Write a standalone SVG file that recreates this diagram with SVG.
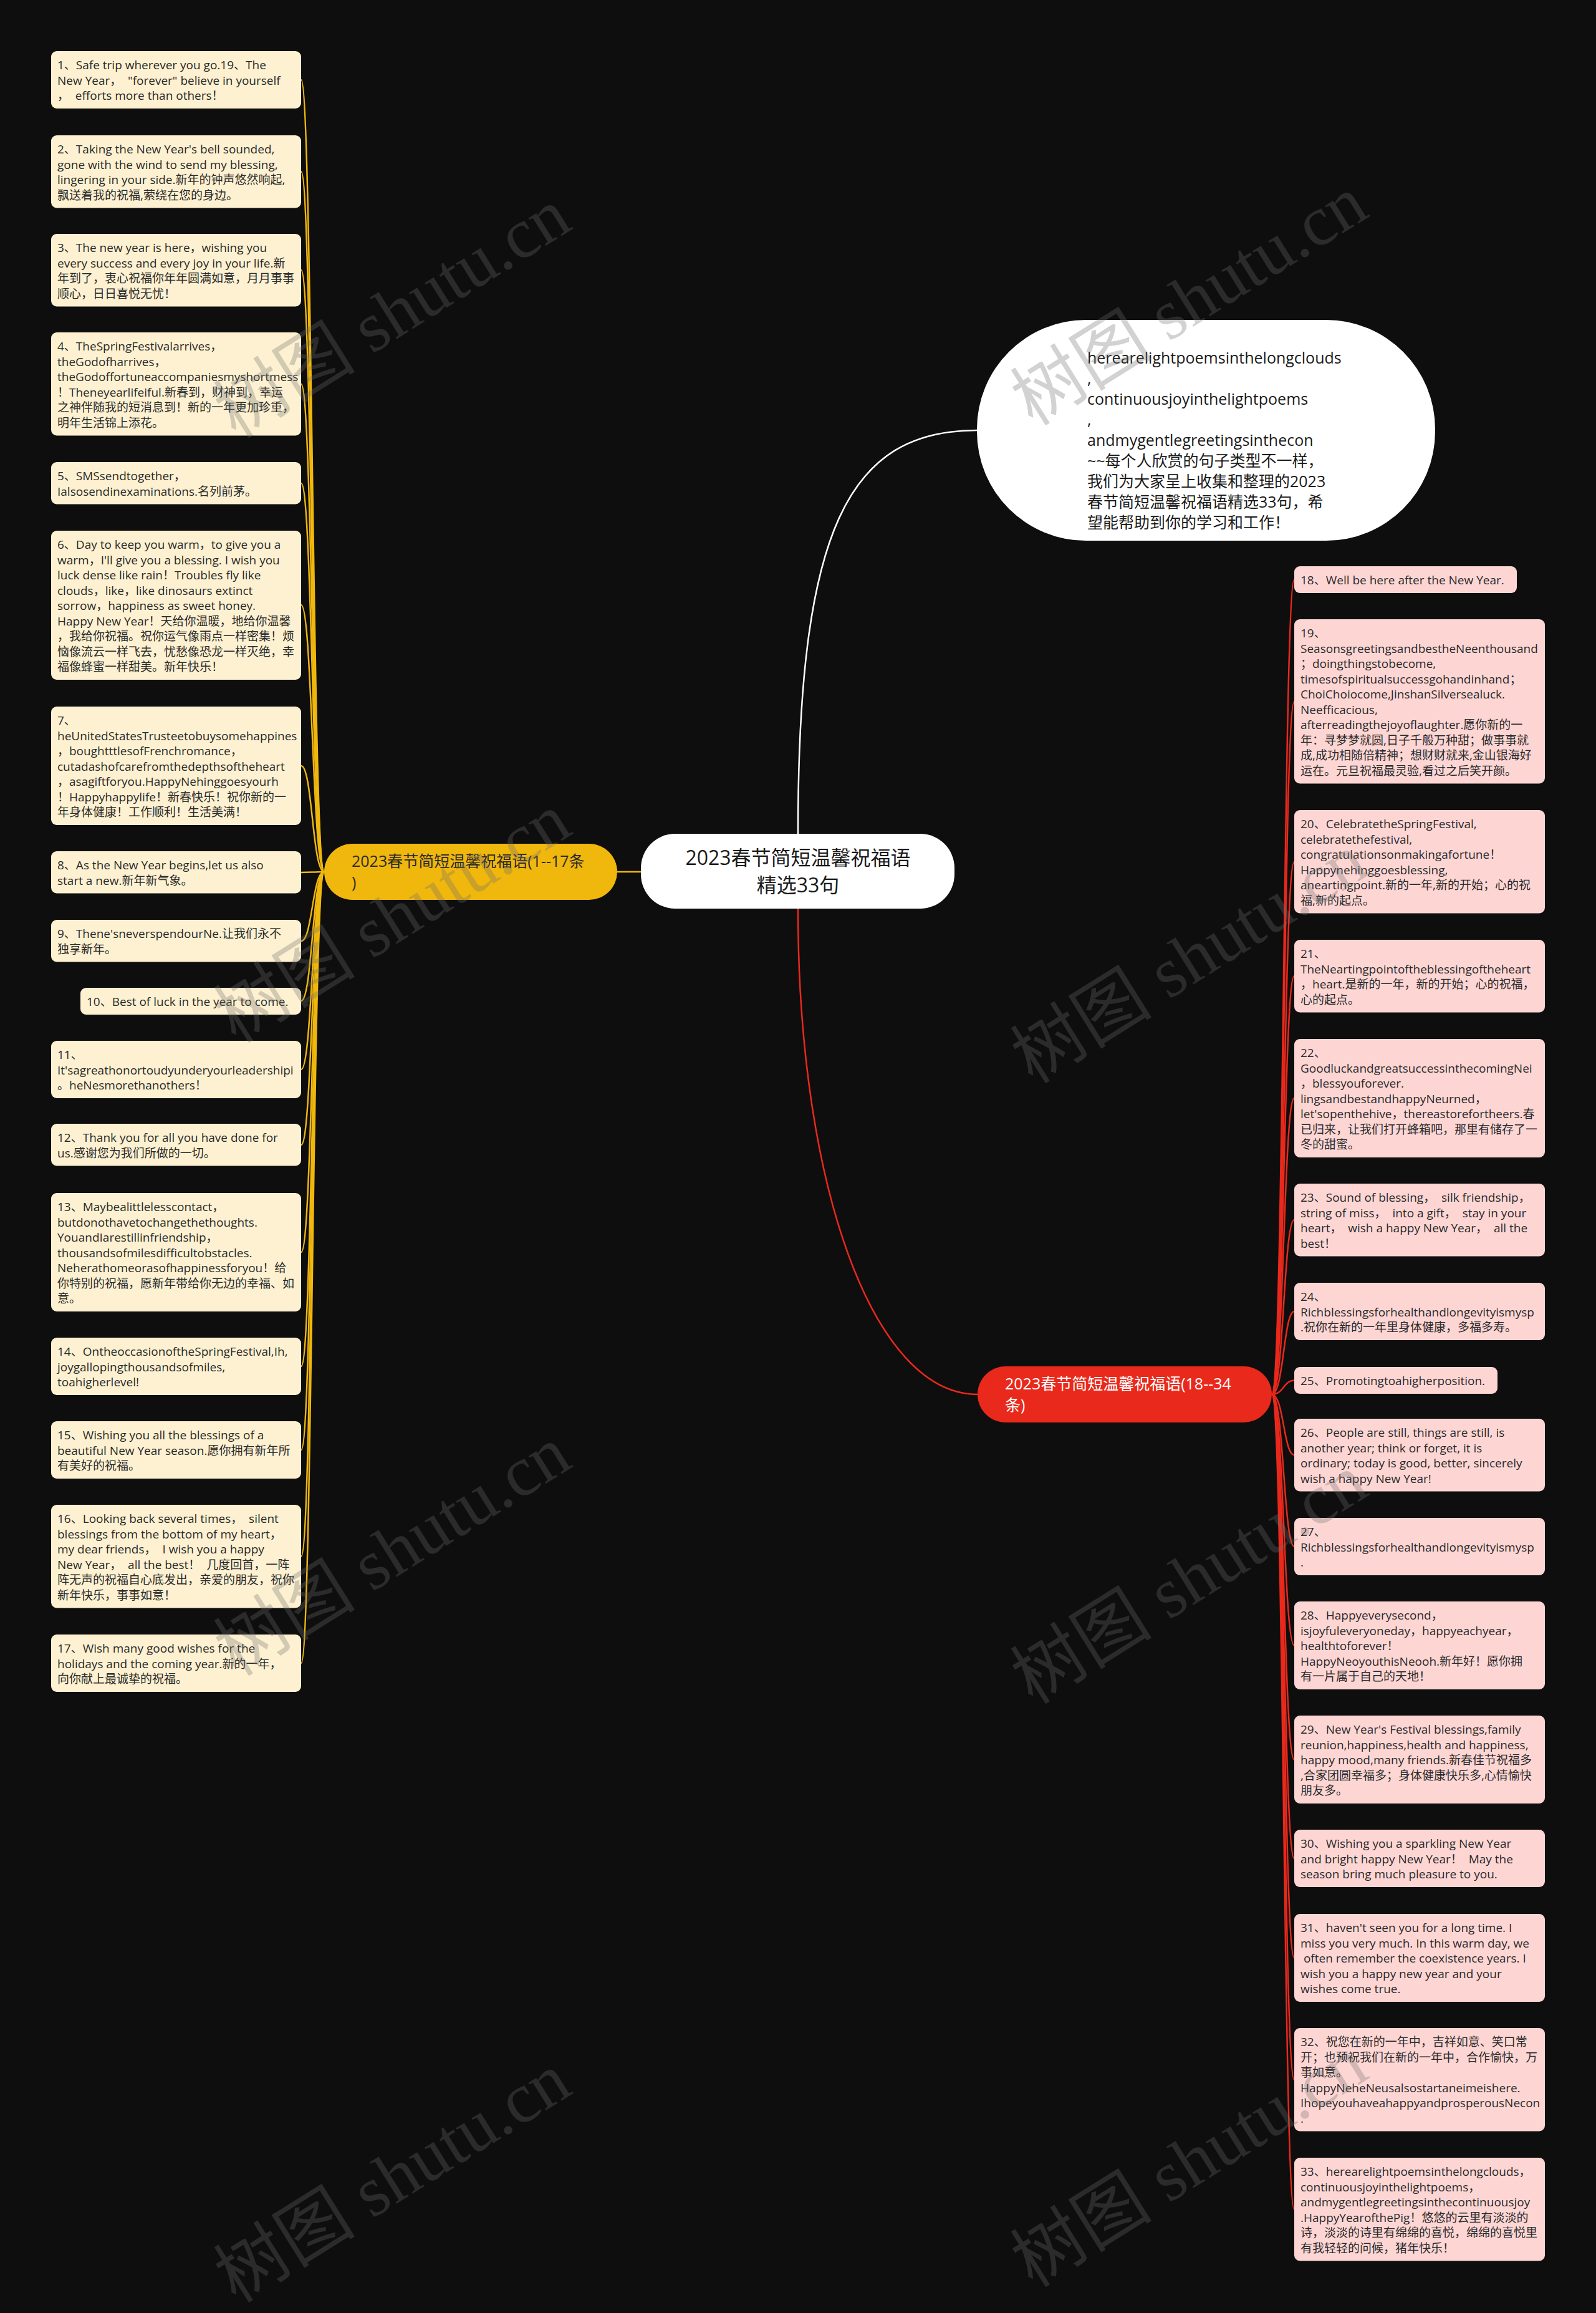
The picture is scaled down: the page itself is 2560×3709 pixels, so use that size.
<svg xmlns="http://www.w3.org/2000/svg" width="2560" height="3709" viewBox="0 0 2560 3709">
<style>
.t{font-family:"Open Sans","Noto Sans CJK SC",sans-serif;font-size:19px;fill:#2a2a2a;white-space:pre}
.l{fill:#fdf1d1}
.r{fill:#fdd6d4}
.cy{fill:none;stroke:#f0b70d;stroke-width:2.5}
.cr{fill:none;stroke:#e9291c;stroke-width:2.5}
.cw{fill:none;stroke:#ffffff;stroke-width:2.5}
.m{font-family:"Open Sans","Noto Sans CJK SC",sans-serif}
.wm{font-family:"Liberation Serif","Noto Sans CJK SC",serif;font-size:114px;fill:#6e6e6e;opacity:0.3}
</style>
<rect x="0" y="0" width="2560" height="3709" fill="#0e0e0e"/>
<g id="connectors">
<path class="cw" d="M1280 1337 C1280 850 1360 690 1567 690"/>
<path class="cr" d="M1280 1457 C1280 1900 1400 2236 1568 2236"/>
<path class="cy" d="M1028 1398 L990 1398"/>
<path class="cy" d="M520 1398 C501 1398 501 128 483 128"/>
<path class="cy" d="M520 1398 C501 1398 501 275 483 275"/>
<path class="cy" d="M520 1398 C501 1398 501 433 483 433"/>
<path class="cy" d="M520 1398 C501 1398 501 616 483 616"/>
<path class="cy" d="M520 1398 C501 1398 501 775 483 775"/>
<path class="cy" d="M520 1398 C501 1398 501 970 483 970"/>
<path class="cy" d="M520 1398 C501 1398 501 1228 483 1228"/>
<path class="cy" d="M520 1398 C501 1398 501 1399 483 1399"/>
<path class="cy" d="M520 1398 C501 1398 501 1509 483 1509"/>
<path class="cy" d="M520 1398 C501 1398 501 1605 483 1605"/>
<path class="cy" d="M520 1398 C501 1398 501 1715 483 1715"/>
<path class="cy" d="M520 1398 C501 1398 501 1836 483 1836"/>
<path class="cy" d="M520 1398 C501 1398 501 2008 483 2008"/>
<path class="cy" d="M520 1398 C501 1398 501 2191 483 2191"/>
<path class="cy" d="M520 1398 C501 1398 501 2325 483 2325"/>
<path class="cy" d="M520 1398 C501 1398 501 2496 483 2496"/>
<path class="cy" d="M520 1398 C501 1398 501 2667 483 2667"/>
<path class="cr" d="M2040 2236 C2059 2236 2059 929.5 2076 929.5"/>
<path class="cr" d="M2040 2236 C2059 2236 2059 1125 2076 1125"/>
<path class="cr" d="M2040 2236 C2059 2236 2059 1382 2076 1382"/>
<path class="cr" d="M2040 2236 C2059 2236 2059 1565 2076 1565"/>
<path class="cr" d="M2040 2236 C2059 2236 2059 1761 2076 1761"/>
<path class="cr" d="M2040 2236 C2059 2236 2059 1956 2076 1956"/>
<path class="cr" d="M2040 2236 C2059 2236 2059 2103 2076 2103"/>
<path class="cr" d="M2040 2236 C2059 2236 2059 2213.5 2076 2213.5"/>
<path class="cr" d="M2040 2236 C2059 2236 2059 2333 2076 2333"/>
<path class="cr" d="M2040 2236 C2059 2236 2059 2480 2076 2480"/>
<path class="cr" d="M2040 2236 C2059 2236 2059 2638.5 2076 2638.5"/>
<path class="cr" d="M2040 2236 C2059 2236 2059 2821.5 2076 2821.5"/>
<path class="cr" d="M2040 2236 C2059 2236 2059 2980 2076 2980"/>
<path class="cr" d="M2040 2236 C2059 2236 2059 3139.5 2076 3139.5"/>
<path class="cr" d="M2040 2236 C2059 2236 2059 3335 2076 3335"/>
<path class="cr" d="M2040 2236 C2059 2236 2059 3543 2076 3543"/>
</g>
<g id="center">
<rect x="1028" y="1337" width="503" height="120" rx="55" fill="#ffffff"/>
<text class="m" x="1280" y="1387" font-size="32" fill="#1a1a1a" text-anchor="middle">2023春节简短温馨祝福语<tspan x="1280" dy="44">精选33句</tspan></text>
</g>
<g id="intro">
<rect x="1567" y="513" width="735" height="354" rx="175" fill="#ffffff"/>
<text class="m" x="1744" y="583" font-size="25" fill="#1a1a1a">herearelightpoemsinthelongclouds<tspan x="1744" dy="33">,</tspan><tspan x="1744" dy="33">continuousjoyinthelightpoems</tspan><tspan x="1744" dy="33">,</tspan><tspan x="1744" dy="33">andmygentlegreetingsinthecon</tspan><tspan x="1744" dy="33">~~每个人欣赏的句子类型不一样，</tspan><tspan x="1744" dy="33">我们为大家呈上收集和整理的2023</tspan><tspan x="1744" dy="33">春节简短温馨祝福语精选33句，希</tspan><tspan x="1744" dy="33">望能帮助到你的学习和工作！</tspan></text>
</g>
<g id="branch-left">
<rect x="520" y="1353" width="470" height="90" rx="45" fill="#f0b70d"/>
<text class="m" x="564" y="1390" font-size="25" fill="#2a2a2a">2023春节简短温馨祝福语(1--17条<tspan x="564" dy="34">)</tspan></text>
</g>
<g id="branch-right">
<rect x="1568" y="2191" width="472" height="90" rx="45" fill="#e9291c"/>
<text class="m" x="1612" y="2228" font-size="25" fill="#ffffff">2023春节简短温馨祝福语(18--34<tspan x="1612" dy="34">条)</tspan></text>
</g>
<g id="n1"><rect class="l" x="82" y="82" width="401" height="92" rx="9"/><svg x="82" y="82" width="401" height="92"><text class="t" y="29"><tspan x="10">1、Safe trip wherever you go.19、The</tspan><tspan x="10" dy="24.5">New Year，  "forever" believe in yourself</tspan><tspan x="10" dy="24.5">，  efforts more than others！</tspan></text></svg></g>
<g id="n2"><rect class="l" x="82" y="217" width="401" height="116.5" rx="9"/><svg x="82" y="217" width="401" height="116.5"><text class="t" y="29"><tspan x="10">2、Taking the New Year's bell sounded,</tspan><tspan x="10" dy="24.5">gone with the wind to send my blessing,</tspan><tspan x="10" dy="24.5">lingering in your side.新年的钟声悠然响起,</tspan><tspan x="10" dy="24.5">飘送着我的祝福,萦绕在您的身边。</tspan></text></svg></g>
<g id="n3"><rect class="l" x="82" y="375" width="401" height="116.5" rx="9"/><svg x="82" y="375" width="401" height="116.5"><text class="t" y="29"><tspan x="10">3、The new year is here，wishing you</tspan><tspan x="10" dy="24.5">every success and every joy in your life.新</tspan><tspan x="10" dy="24.5">年到了，衷心祝福你年年圆满如意，月月事事</tspan><tspan x="10" dy="24.5">顺心，日日喜悦无忧！</tspan></text></svg></g>
<g id="n4"><rect class="l" x="82" y="533" width="401" height="165.5" rx="9"/><svg x="82" y="533" width="401" height="165.5"><text class="t" y="29"><tspan x="10">4、TheSpringFestivalarrives，</tspan><tspan x="10" dy="24.5">theGodofharrives，</tspan><tspan x="10" dy="24.5">theGodoffortuneaccompaniesmyshortmess</tspan><tspan x="10" dy="24.5">！Theneyearlifeiful.新春到，财神到，幸运</tspan><tspan x="10" dy="24.5">之神伴随我的短消息到！新的一年更加珍重，</tspan><tspan x="10" dy="24.5">明年生活锦上添花。</tspan></text></svg></g>
<g id="n5"><rect class="l" x="82" y="741" width="401" height="67.5" rx="9"/><svg x="82" y="741" width="401" height="67.5"><text class="t" y="29"><tspan x="10">5、SMSsendtogether，</tspan><tspan x="10" dy="24.5">Ialsosendinexaminations.名列前茅。</tspan></text></svg></g>
<g id="n6"><rect class="l" x="82" y="851" width="401" height="239" rx="9"/><svg x="82" y="851" width="401" height="239"><text class="t" y="29"><tspan x="10">6、Day to keep you warm，to give you a</tspan><tspan x="10" dy="24.5">warm，I'll give you a blessing. I wish you</tspan><tspan x="10" dy="24.5">luck dense like rain！Troubles fly like</tspan><tspan x="10" dy="24.5">clouds，like，like dinosaurs extinct</tspan><tspan x="10" dy="24.5">sorrow，happiness as sweet honey.</tspan><tspan x="10" dy="24.5">Happy New Year！天给你温暖，地给你温馨</tspan><tspan x="10" dy="24.5">，我给你祝福。祝你运气像雨点一样密集！烦</tspan><tspan x="10" dy="24.5">恼像流云一样飞去，忧愁像恐龙一样灭绝，幸</tspan><tspan x="10" dy="24.5">福像蜂蜜一样甜美。新年快乐！</tspan></text></svg></g>
<g id="n7"><rect class="l" x="82" y="1133" width="401" height="190" rx="9"/><svg x="82" y="1133" width="401" height="190"><text class="t" y="29"><tspan x="10">7、</tspan><tspan x="10" dy="24.5">heUnitedStatesTrusteetobuysomehappines</tspan><tspan x="10" dy="24.5">，boughtttlesofFrenchromance，</tspan><tspan x="10" dy="24.5">cutadashofcarefromthedepthsoftheheart</tspan><tspan x="10" dy="24.5">，asagiftforyou.HappyNehinggoesyourh</tspan><tspan x="10" dy="24.5">！Happyhappylife！新春快乐！祝你新的一</tspan><tspan x="10" dy="24.5">年身体健康！工作顺利！生活美满！</tspan></text></svg></g>
<g id="n8"><rect class="l" x="82" y="1365" width="401" height="67.5" rx="9"/><svg x="82" y="1365" width="401" height="67.5"><text class="t" y="29"><tspan x="10">8、As the New Year begins,let us also</tspan><tspan x="10" dy="24.5">start a new.新年新气象。</tspan></text></svg></g>
<g id="n9"><rect class="l" x="82" y="1475" width="401" height="67.5" rx="9"/><svg x="82" y="1475" width="401" height="67.5"><text class="t" y="29"><tspan x="10">9、Thene'sneverspendourNe.让我们永不</tspan><tspan x="10" dy="24.5">独享新年。</tspan></text></svg></g>
<g id="n10"><rect class="l" x="129" y="1584" width="354" height="43" rx="9"/><svg x="129" y="1584" width="354" height="43"><text class="t" y="29"><tspan x="10">10、Best of luck in the year to come.</tspan></text></svg></g>
<g id="n11"><rect class="l" x="82" y="1669" width="401" height="92" rx="9"/><svg x="82" y="1669" width="401" height="92"><text class="t" y="29"><tspan x="10">11、</tspan><tspan x="10" dy="24.5">It'sagreathonortoudyunderyourleadershipi</tspan><tspan x="10" dy="24.5">。heNesmorethanothers！</tspan></text></svg></g>
<g id="n12"><rect class="l" x="82" y="1802" width="401" height="67.5" rx="9"/><svg x="82" y="1802" width="401" height="67.5"><text class="t" y="29"><tspan x="10">12、Thank you for all you have done for</tspan><tspan x="10" dy="24.5">us.感谢您为我们所做的一切。</tspan></text></svg></g>
<g id="n13"><rect class="l" x="82" y="1913" width="401" height="190" rx="9"/><svg x="82" y="1913" width="401" height="190"><text class="t" y="29"><tspan x="10">13、Maybealittlelesscontact，</tspan><tspan x="10" dy="24.5">butdonothavetochangethethoughts.</tspan><tspan x="10" dy="24.5">YouandIarestillinfriendship，</tspan><tspan x="10" dy="24.5">thousandsofmilesdifficultobstacles.</tspan><tspan x="10" dy="24.5">Neherathomeorasofhappinessforyou！给</tspan><tspan x="10" dy="24.5">你特别的祝福，愿新年带给你无边的幸福、如</tspan><tspan x="10" dy="24.5">意。</tspan></text></svg></g>
<g id="n14"><rect class="l" x="82" y="2145" width="401" height="92" rx="9"/><svg x="82" y="2145" width="401" height="92"><text class="t" y="29"><tspan x="10">14、OntheoccasionoftheSpringFestival,Ih,</tspan><tspan x="10" dy="24.5">joygallopingthousandsofmiles,</tspan><tspan x="10" dy="24.5">toahigherlevel!</tspan></text></svg></g>
<g id="n15"><rect class="l" x="82" y="2279" width="401" height="92" rx="9"/><svg x="82" y="2279" width="401" height="92"><text class="t" y="29"><tspan x="10">15、Wishing you all the blessings of a</tspan><tspan x="10" dy="24.5">beautiful New Year season.愿你拥有新年所</tspan><tspan x="10" dy="24.5">有美好的祝福。</tspan></text></svg></g>
<g id="n16"><rect class="l" x="82" y="2413" width="401" height="165.5" rx="9"/><svg x="82" y="2413" width="401" height="165.5"><text class="t" y="29"><tspan x="10">16、Looking back several times，  silent</tspan><tspan x="10" dy="24.5">blessings from the bottom of my heart，</tspan><tspan x="10" dy="24.5">my dear friends，  I wish you a happy</tspan><tspan x="10" dy="24.5">New Year，  all the best！  几度回首，一阵</tspan><tspan x="10" dy="24.5">阵无声的祝福自心底发出，亲爱的朋友，祝你</tspan><tspan x="10" dy="24.5">新年快乐，事事如意！</tspan></text></svg></g>
<g id="n17"><rect class="l" x="82" y="2621" width="401" height="92" rx="9"/><svg x="82" y="2621" width="401" height="92"><text class="t" y="29"><tspan x="10">17、Wish many good wishes for the</tspan><tspan x="10" dy="24.5">holidays and the coming year.新的一年，</tspan><tspan x="10" dy="24.5">向你献上最诚挚的祝福。</tspan></text></svg></g>
<g id="n18"><rect class="r" x="2076" y="908" width="357" height="43" rx="9"/><svg x="2076" y="908" width="357" height="43"><text class="t" y="29"><tspan x="10">18、Well be here after the New Year.</tspan></text></svg></g>
<g id="n19"><rect class="r" x="2076" y="993" width="402" height="263.5" rx="9"/><svg x="2076" y="993" width="402" height="263.5"><text class="t" y="29"><tspan x="10">19、</tspan><tspan x="10" dy="24.5">SeasonsgreetingsandbestheNeenthousand</tspan><tspan x="10" dy="24.5">；doingthingstobecome,</tspan><tspan x="10" dy="24.5">timesofspiritualsuccessgohandinhand；</tspan><tspan x="10" dy="24.5">ChoiChoiocome,JinshanSilversealuck.</tspan><tspan x="10" dy="24.5">Neefficacious,</tspan><tspan x="10" dy="24.5">afterreadingthejoyoflaughter.愿你新的一</tspan><tspan x="10" dy="24.5">年：寻梦梦就圆,日子千般万种甜；做事事就</tspan><tspan x="10" dy="24.5">成,成功相随倍精神；想财财就来,金山银海好</tspan><tspan x="10" dy="24.5">运在。元旦祝福最灵验,看过之后笑开颜。</tspan></text></svg></g>
<g id="n20"><rect class="r" x="2076" y="1299" width="402" height="165.5" rx="9"/><svg x="2076" y="1299" width="402" height="165.5"><text class="t" y="29"><tspan x="10">20、CelebratetheSpringFestival,</tspan><tspan x="10" dy="24.5">celebratethefestival,</tspan><tspan x="10" dy="24.5">congratulationsonmakingafortune！</tspan><tspan x="10" dy="24.5">Happynehinggoesblessing,</tspan><tspan x="10" dy="24.5">aneartingpoint.新的一年,新的开始；心的祝</tspan><tspan x="10" dy="24.5">福,新的起点。</tspan></text></svg></g>
<g id="n21"><rect class="r" x="2076" y="1507" width="402" height="116.5" rx="9"/><svg x="2076" y="1507" width="402" height="116.5"><text class="t" y="29"><tspan x="10">21、</tspan><tspan x="10" dy="24.5">TheNeartingpointoftheblessingoftheheart</tspan><tspan x="10" dy="24.5">，heart.是新的一年，新的开始；心的祝福，</tspan><tspan x="10" dy="24.5">心的起点。</tspan></text></svg></g>
<g id="n22"><rect class="r" x="2076" y="1666" width="402" height="190" rx="9"/><svg x="2076" y="1666" width="402" height="190"><text class="t" y="29"><tspan x="10">22、</tspan><tspan x="10" dy="24.5">GoodluckandgreatsuccessinthecomingNei</tspan><tspan x="10" dy="24.5">，blessyouforever.</tspan><tspan x="10" dy="24.5">lingsandbestandhappyNeurned，</tspan><tspan x="10" dy="24.5">let'sopenthehive，thereastorefortheers.春</tspan><tspan x="10" dy="24.5">已归来，让我们打开蜂箱吧，那里有储存了一</tspan><tspan x="10" dy="24.5">冬的甜蜜。</tspan></text></svg></g>
<g id="n23"><rect class="r" x="2076" y="1898" width="402" height="116.5" rx="9"/><svg x="2076" y="1898" width="402" height="116.5"><text class="t" y="29"><tspan x="10">23、Sound of blessing，  silk friendship，</tspan><tspan x="10" dy="24.5">string of miss，  into a gift，  stay in your</tspan><tspan x="10" dy="24.5">heart，  wish a happy New Year，  all the</tspan><tspan x="10" dy="24.5">best！</tspan></text></svg></g>
<g id="n24"><rect class="r" x="2076" y="2057" width="402" height="92" rx="9"/><svg x="2076" y="2057" width="402" height="92"><text class="t" y="29"><tspan x="10">24、</tspan><tspan x="10" dy="24.5">Richblessingsforhealthandlongevityismysp</tspan><tspan x="10" dy="24.5">.祝你在新的一年里身体健康，多福多寿。</tspan></text></svg></g>
<g id="n25"><rect class="r" x="2076" y="2192" width="326" height="43" rx="9"/><svg x="2076" y="2192" width="326" height="43"><text class="t" y="29"><tspan x="10">25、Promotingtoahigherposition.</tspan></text></svg></g>
<g id="n26"><rect class="r" x="2076" y="2275" width="402" height="116.5" rx="9"/><svg x="2076" y="2275" width="402" height="116.5"><text class="t" y="29"><tspan x="10">26、People are still, things are still, is</tspan><tspan x="10" dy="24.5">another year; think or forget, it is</tspan><tspan x="10" dy="24.5">ordinary; today is good, better, sincerely</tspan><tspan x="10" dy="24.5">wish a happy New Year!</tspan></text></svg></g>
<g id="n27"><rect class="r" x="2076" y="2434" width="402" height="92" rx="9"/><svg x="2076" y="2434" width="402" height="92"><text class="t" y="29"><tspan x="10">27、</tspan><tspan x="10" dy="24.5">Richblessingsforhealthandlongevityismysp</tspan><tspan x="10" dy="24.5">.</tspan></text></svg></g>
<g id="n28"><rect class="r" x="2076" y="2568" width="402" height="141" rx="9"/><svg x="2076" y="2568" width="402" height="141"><text class="t" y="29"><tspan x="10">28、Happyeverysecond，</tspan><tspan x="10" dy="24.5">isjoyfuleveryoneday，happyeachyear，</tspan><tspan x="10" dy="24.5">healthtoforever！</tspan><tspan x="10" dy="24.5">HappyNeoyouthisNeooh.新年好！愿你拥</tspan><tspan x="10" dy="24.5">有一片属于自己的天地！</tspan></text></svg></g>
<g id="n29"><rect class="r" x="2076" y="2751" width="402" height="141" rx="9"/><svg x="2076" y="2751" width="402" height="141"><text class="t" y="29"><tspan x="10">29、New Year's Festival blessings,family</tspan><tspan x="10" dy="24.5">reunion,happiness,health and happiness,</tspan><tspan x="10" dy="24.5">happy mood,many friends.新春佳节祝福多</tspan><tspan x="10" dy="24.5">,合家团圆幸福多；身体健康快乐多,心情愉快</tspan><tspan x="10" dy="24.5">朋友多。</tspan></text></svg></g>
<g id="n30"><rect class="r" x="2076" y="2934" width="402" height="92" rx="9"/><svg x="2076" y="2934" width="402" height="92"><text class="t" y="29"><tspan x="10">30、Wishing you a sparkling New Year</tspan><tspan x="10" dy="24.5">and bright happy New Year！  May the</tspan><tspan x="10" dy="24.5">season bring much pleasure to you.</tspan></text></svg></g>
<g id="n31"><rect class="r" x="2076" y="3069" width="402" height="141" rx="9"/><svg x="2076" y="3069" width="402" height="141"><text class="t" y="29"><tspan x="10">31、haven't seen you for a long time. I</tspan><tspan x="10" dy="24.5">miss you very much. In this warm day, we</tspan><tspan x="10" dy="24.5"> often remember the coexistence years. I</tspan><tspan x="10" dy="24.5">wish you a happy new year and your</tspan><tspan x="10" dy="24.5">wishes come true.</tspan></text></svg></g>
<g id="n32"><rect class="r" x="2076" y="3252" width="402" height="165.5" rx="9"/><svg x="2076" y="3252" width="402" height="165.5"><text class="t" y="29"><tspan x="10">32、祝您在新的一年中，吉祥如意、笑口常</tspan><tspan x="10" dy="24.5">开；也预祝我们在新的一年中，合作愉快，万</tspan><tspan x="10" dy="24.5">事如意。</tspan><tspan x="10" dy="24.5">HappyNeheNeusalsostartaneimeishere.</tspan><tspan x="10" dy="24.5">IhopeyouhaveahappyandprosperousNecon</tspan><tspan x="10" dy="24.5">.</tspan></text></svg></g>
<g id="n33"><rect class="r" x="2076" y="3460" width="402" height="165.5" rx="9"/><svg x="2076" y="3460" width="402" height="165.5"><text class="t" y="29"><tspan x="10">33、herearelightpoemsinthelongclouds，</tspan><tspan x="10" dy="24.5">continuousjoyinthelightpoems，</tspan><tspan x="10" dy="24.5">andmygentlegreetingsinthecontinuousjoy</tspan><tspan x="10" dy="24.5">.HappyYearofthePig！悠悠的云里有淡淡的</tspan><tspan x="10" dy="24.5">诗，淡淡的诗里有绵绵的喜悦，绵绵的喜悦里</tspan><tspan x="10" dy="24.5">有我轻轻的问候，猪年快乐！</tspan></text></svg></g>
<g id="watermarks">
<text class="wm" text-anchor="middle" transform="translate(650 535) rotate(-32)">树图 shutu.cn</text>
<text class="wm" text-anchor="middle" transform="translate(1928 515) rotate(-32)">树图 shutu.cn</text>
<text class="wm" text-anchor="middle" transform="translate(650 1505) rotate(-32)">树图 shutu.cn</text>
<text class="wm" text-anchor="middle" transform="translate(1928 1570) rotate(-32)">树图 shutu.cn</text>
<text class="wm" text-anchor="middle" transform="translate(650 2520) rotate(-32)">树图 shutu.cn</text>
<text class="wm" text-anchor="middle" transform="translate(1928 2565) rotate(-32)">树图 shutu.cn</text>
<text class="wm" text-anchor="middle" transform="translate(650 3525) rotate(-32)">树图 shutu.cn</text>
<text class="wm" text-anchor="middle" transform="translate(1928 3500) rotate(-32)">树图 shutu.cn</text>
</g>
</svg>
